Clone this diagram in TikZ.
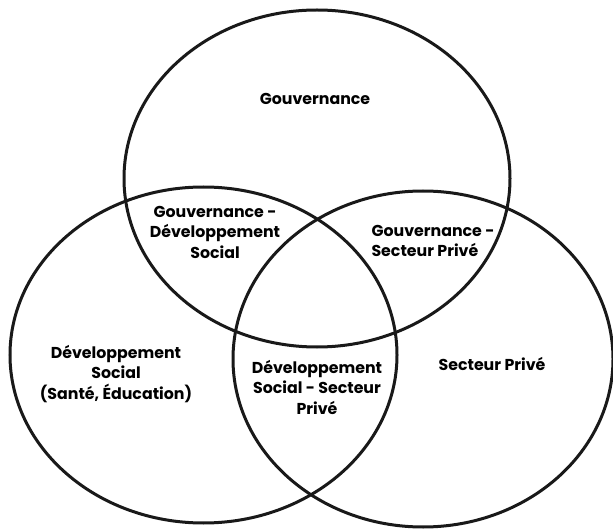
\documentclass[tikz,border=0pt]{standalone}
\usepackage{fontspec}
\setmainfont{Poppins}
\usetikzlibrary{positioning}
\tikzset{
  venn/.style={draw=black!90,line width=3pt},
  zone/.style={font=\fontsize{15.8}{20.5}\selectfont\bfseries,align=center,inner sep=0pt}
}
\newcommand\vennset[3]{
  \draw[venn] (#1) ellipse [x radius=#2,y radius=#3];
}

\begin{document}
\begin{tikzpicture}[x=1pt,y=-1pt]
  %
  \useasboundingbox (0,0) rectangle (613,529);

  % the three sets
  \vennset{317,178.5}{193}{168.5}
  \vennset{203.5,355}{193.5}{168}
  \vennset{423,359}{190}{168}

  % the zones
  \node[zone] (gov) at (315,99) {Gouvernance};
  \node[zone] (govsoc) at (215,232) {Gouvernance -\\Développement\\Social};
  \node[zone,align=left] (govpriv) at (433,241) {Gouvernance -\\Secteur Privé};
  \node[zone] (soc) at (116,374) {Développement\\Social\\(Santé, Éducation)};
  \node[zone] (socpriv) at (317,387) {Développement\\Social - Secteur\\Privé};
  \node[zone] (priv) at (492,364) {Secteur Privé};

\end{tikzpicture}
\end{document}
